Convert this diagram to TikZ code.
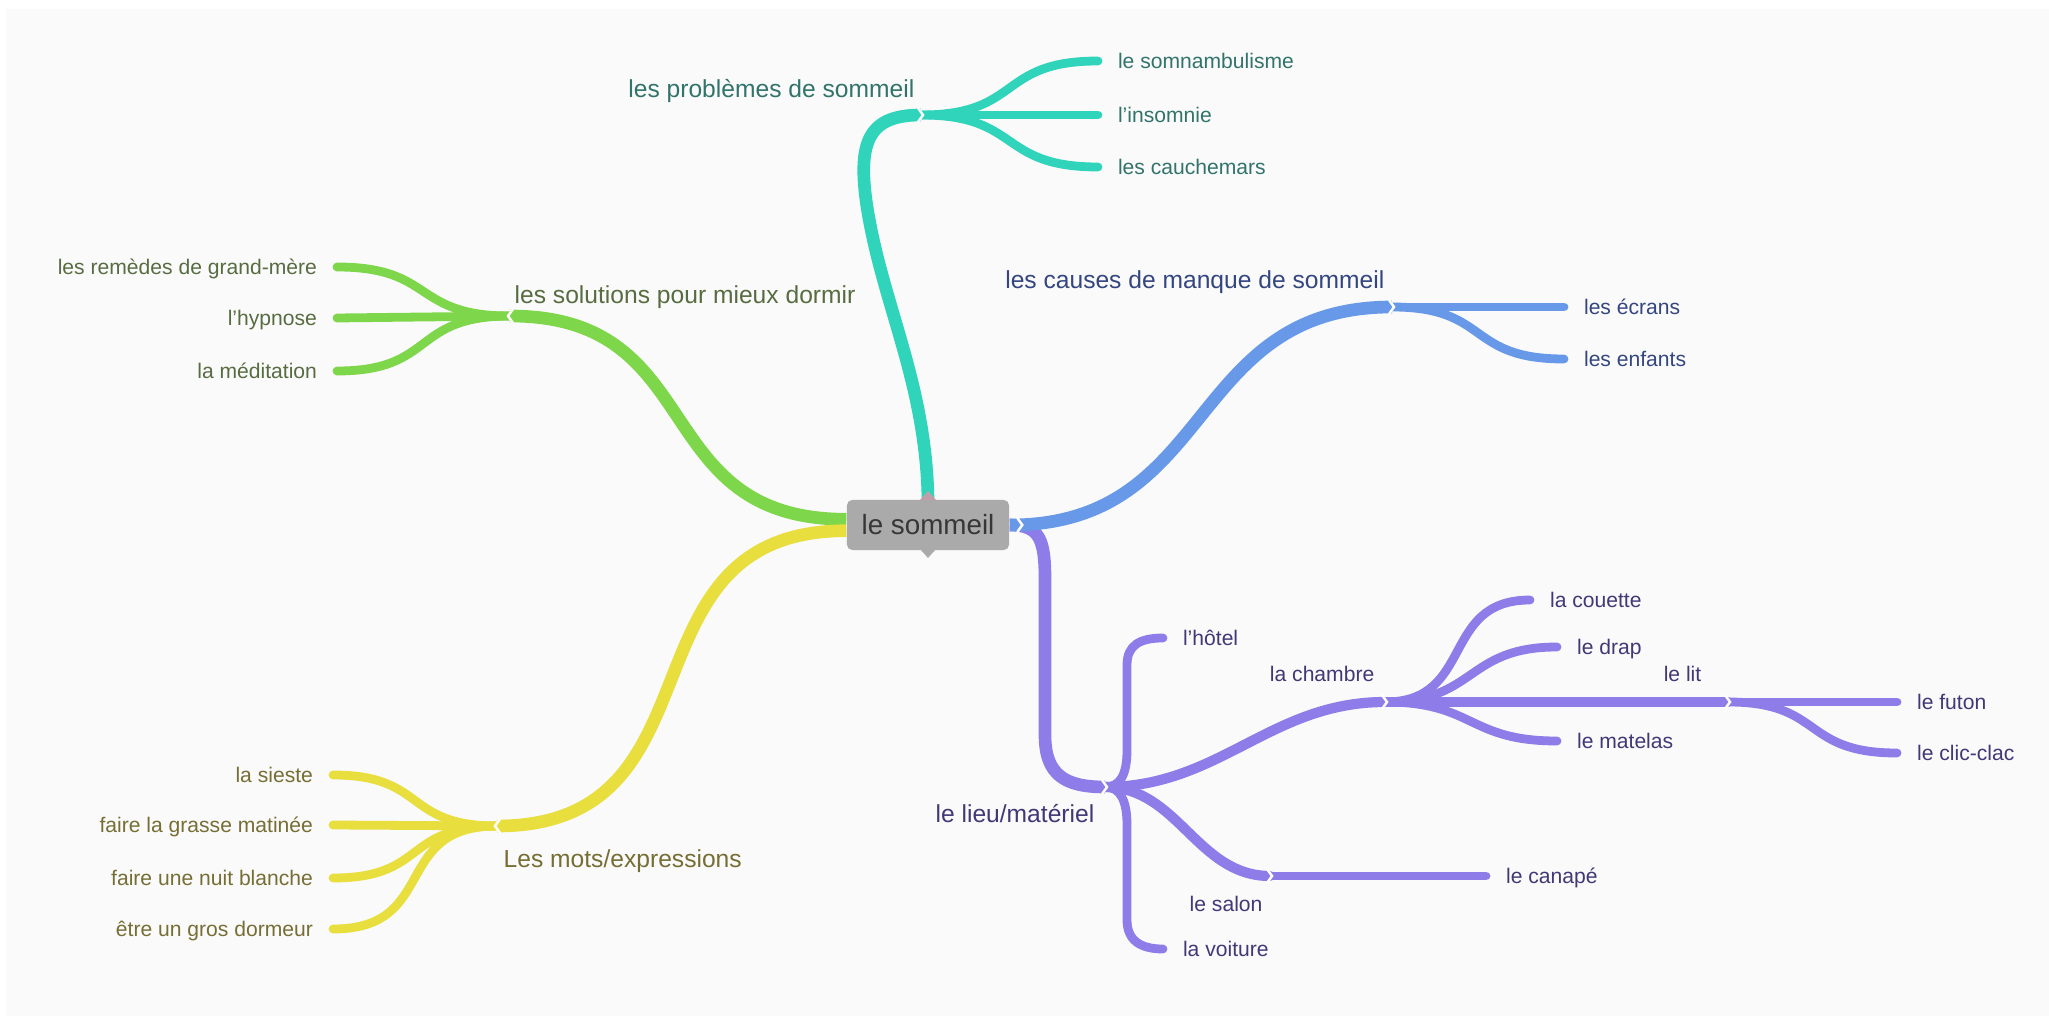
\documentclass[tikz,border=0pt]{standalone}
\usepackage{fontspec}
\setmainfont{Liberation Sans}
\usetikzlibrary{calc}

\definecolor{tealB}{RGB}{48,212,186}
\definecolor{tealT}{RGB}{50,115,108}
\definecolor{greenB}{RGB}{126,214,74}
\definecolor{greenT}{RGB}{88,108,66}
\definecolor{blueB}{RGB}{104,152,232}
\definecolor{blueT}{RGB}{52,70,128}
\definecolor{yellowB}{RGB}{232,222,62}
\definecolor{yellowT}{RGB}{118,110,52}
\definecolor{purpleB}{RGB}{142,124,232}
\definecolor{purpleT}{RGB}{66,56,118}
\definecolor{boxG}{RGB}{170,170,170}
\definecolor{boxT}{RGB}{55,55,55}
\definecolor{pinkG}{RGB}{192,158,170}
\definecolor{paper}{RGB}{250,250,250}

\newcommand{\notchR}[1]{\draw[white, line width=0.7pt] ([shift={(-3,-7)}]#1) -- ++(5,7) -- ++(-5,7);}
\newcommand{\notchL}[1]{\draw[white, line width=0.7pt] ([shift={(3,-7)}]#1) -- ++(-5,7) -- ++(5,7);}

\begin{document}
\begin{tikzpicture}[x=0.01cm, y=-0.01cm,
    trunk/.style={line width=3.6pt, draw=#1},
    twig/.style={line width=2.9pt, line cap=round, draw=#1},
    leafline/.style={line width=2.5pt, line cap=round, draw=#1},
    topic/.style={font=\fontsize{7}{8.4}\selectfont, text=#1, inner sep=0pt, text height=6.3pt, text depth=1.4pt},
    subtopic/.style={font=\fontsize{6}{7.2}\selectfont, text=#1, inner sep=0pt, text height=5.6pt, text depth=1.2pt},
    leaf/.style={font=\fontsize{6}{7.2}\selectfont, text=#1, inner xsep=5.5pt, inner ysep=0pt, text height=5.6pt, text depth=1.2pt}]
    \fill[white] (0,0) rectangle (2049,1016);
    \fill[paper] (6,9) rectangle (2049,1016);
    \useasboundingbox (0,0) rectangle (2049,1016);

    % centre
    \node[fill=boxG, rounded corners=1.5pt, minimum width=1.62cm, minimum height=0.5cm, inner sep=0pt, text=boxT, font=\fontsize{7.9}{9}\selectfont] (sommeil) at (928,525) {le sommeil};
    \coordinate (se) at ([xshift=3pt]sommeil.east);

    % hubs
    \coordinate (tp) at (921,115);
    \coordinate (sd) at (510,316);
    \coordinate (cm) at (1392,307);
    \coordinate (me) at (497,826);
    \coordinate (lm) at (1105,787);
    \coordinate (ch) at (1385,702);
    \coordinate (lt) at (1728,702);
    \coordinate (sa) at (1270,876);

    % topics
    \node[topic=tealT, anchor=east] (probT) at (915,89) {les problèmes de sommeil};
    \node[topic=greenT, anchor=west] (solT) at (514,295) {les solutions pour mieux dormir};
    \node[topic=blueT, anchor=east] (causT) at (1385,280) {les causes de manque de sommeil};
    \node[topic=yellowT, anchor=west] (motsT) at (503,859) {Les mots/expressions};
    \node[topic=purpleT, anchor=east] (lieuT) at (1095,814) {le lieu/matériel};
    \node[subtopic=purpleT, anchor=east] (chamT) at (1375,674) {la chambre};
    \node[subtopic=purpleT, anchor=east] (litT) at (1702,674) {le lit};
    \node[subtopic=purpleT, anchor=west] (salT) at (1189,904) {le salon};

    % leaves
    \node[leaf=tealT, anchor=west] (somn) at (1098,61) {le somnambulisme};
    \node[leaf=tealT, anchor=west] (insom) at (1098,115) {l'insomnie};
    \node[leaf=tealT, anchor=west] (cauch) at (1098,167) {les cauchemars};
    \node[leaf=greenT, anchor=east] (remed) at (337,267) {les remèdes de grand-mère};
    \node[leaf=greenT, anchor=east] (hypno) at (337,318) {l'hypnose};
    \node[leaf=greenT, anchor=east] (medit) at (337,371) {la méditation};
    \node[leaf=blueT, anchor=west] (ecran) at (1564,307) {les écrans};
    \node[leaf=blueT, anchor=west] (enfan) at (1564,359) {les enfants};
    \node[leaf=yellowT, anchor=east] (siest) at (333,775) {la sieste};
    \node[leaf=yellowT, anchor=east] (grass) at (333,825) {faire la grasse matinée};
    \node[leaf=yellowT, anchor=east] (nuitb) at (333,878) {faire une nuit blanche};
    \node[leaf=yellowT, anchor=east] (gross) at (333,929) {être un gros dormeur};
    \node[leaf=purpleT, anchor=west] (hotel) at (1163,638) {l'hôtel};
    \node[leaf=purpleT, anchor=west] (voit) at (1163,949) {la voiture};
    \node[leaf=purpleT, anchor=west] (couet) at (1530,600) {la couette};
    \node[leaf=purpleT, anchor=west] (drap) at (1557,647) {le drap};
    \node[leaf=purpleT, anchor=west] (matel) at (1557,741) {le matelas};
    \node[leaf=purpleT, anchor=west] (futon) at (1897,702) {le futon};
    \node[leaf=purpleT, anchor=west] (clic) at (1897,753) {le clic-clac};
    \node[leaf=purpleT, anchor=west] (canap) at (1486,876) {le canapé};

    % trunks
    \draw[trunk=tealB] (sommeil.north) .. controls (926,380) and (880,300) .. (866,200) .. controls (858,140) and (870,115) .. (tp);
    \draw[trunk=greenB] (sommeil.176) to[out=180, in=0, looseness=1.3] (sd);
    \draw[trunk=yellowB] (sommeil.184) to[out=180, in=0, looseness=1.3] (me);
    \draw[trunk=purpleB] (sommeil.east) .. controls (1040,525) and (1045,540) .. (1045,580) -- (1045,735) .. controls (1045,775) and (1065,787) .. (lm);
    \draw[trunk=blueB] (sommeil.east) to[out=0, in=180, looseness=1.2] (cm);

    % branches
    \draw[leafline=tealB] (tp) to[out=0, in=180, looseness=1.4] (somn.west);
    \draw[leafline=tealB] (tp) -- (insom.west);
    \draw[leafline=tealB] (tp) to[out=0, in=180, looseness=1.4] (cauch.west);
    \draw[leafline=greenB] (sd) to[out=180, in=0, looseness=1.4] (remed.east);
    \draw[leafline=greenB] (sd) -- (hypno.east);
    \draw[leafline=greenB] (sd) to[out=180, in=0, looseness=1.4] (medit.east);
    \draw[leafline=blueB] (cm) -- (ecran.west);
    \draw[leafline=blueB] (cm) to[out=0, in=180, looseness=1.4] (enfan.west);
    \draw[leafline=yellowB] (me) to[out=180, in=0, looseness=1.4] (siest.east);
    \draw[leafline=yellowB] (me) -- (grass.east);
    \draw[leafline=yellowB] (me) to[out=180, in=0, looseness=1.4] (nuitb.east);
    \draw[leafline=yellowB] (me) to[out=180, in=0, looseness=1.4] (gross.east);
    \draw[twig=purpleB] (lm) to[out=0, in=180] (ch);
    \draw[twig=purpleB] (lm) to[out=0, in=180] (sa);
    \draw[leafline=purpleB] (lm) .. controls (1120,787) and (1127,775) .. (1127,750) -- (1127,665) .. controls (1127,645) and (1140,638) .. (hotel.west);
    \draw[leafline=purpleB] (lm) .. controls (1120,787) and (1127,800) .. (1127,825) -- (1127,920) .. controls (1127,940) and (1140,949) .. (voit.west);
    \draw[leafline=purpleB] (ch) to[out=0, in=180, looseness=1.3] (couet.west);
    \draw[leafline=purpleB] (ch) to[out=0, in=180, looseness=1.3] (drap.west);
    \draw[twig=purpleB] (ch) -- (lt);
    \draw[leafline=purpleB] (ch) to[out=0, in=180, looseness=1.3] (matel.west);
    \draw[leafline=purpleB] (lt) -- (futon.west);
    \draw[leafline=purpleB] (lt) to[out=0, in=180, looseness=1.4] (clic.west);
    \draw[leafline=purpleB] (sa) -- (canap.west);

    % notches
    \notchR{tp} \notchL{sd} \notchR{cm} \notchL{me}
    \notchR{lm} \notchR{ch} \notchR{lt} \notchR{sa}
    \notchR{se}
    \fill[pinkG] (920,500) -- (936,500) -- (928,491) -- cycle;
    \fill[boxG] (920,549) -- (936,549) -- (928,558) -- cycle;
\end{tikzpicture}
\end{document}
